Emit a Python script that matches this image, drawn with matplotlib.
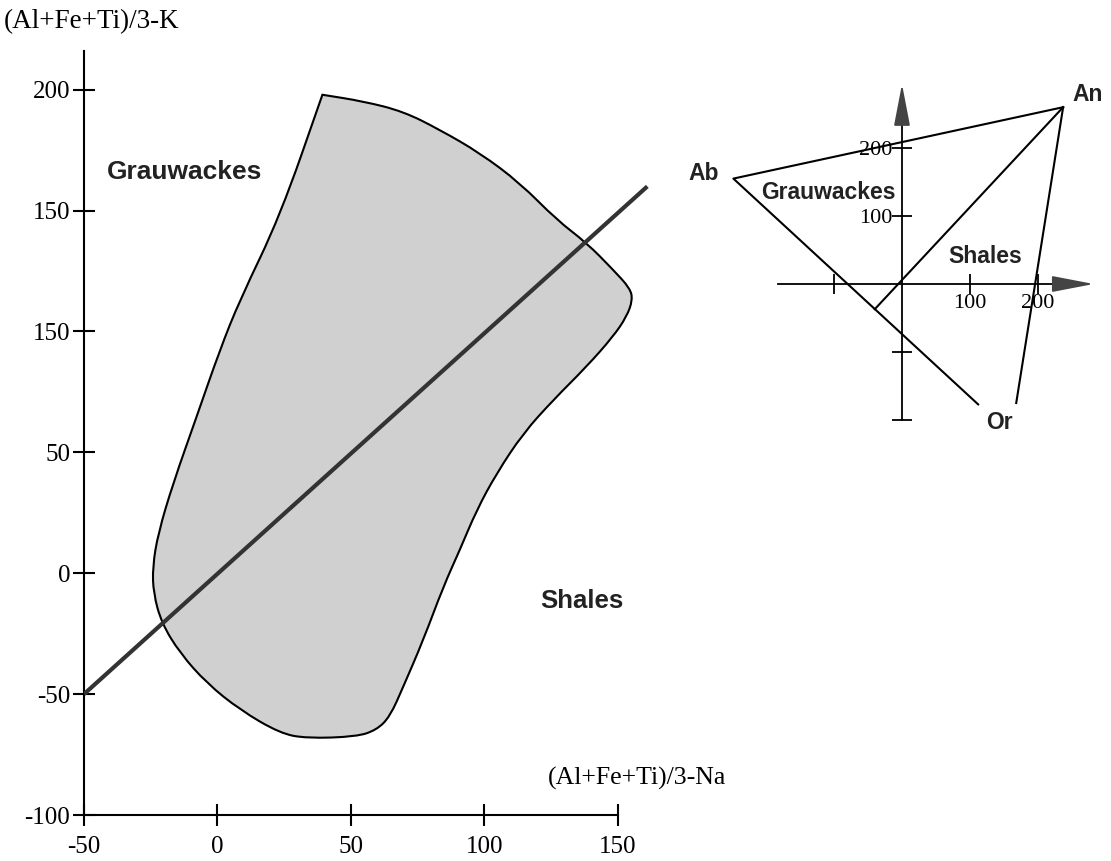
import matplotlib
matplotlib.use("Agg")
import matplotlib.pyplot as plt
from matplotlib.path import Path
from matplotlib.patches import PathPatch

plt.rcParams["font.family"] = ["Liberation Serif", "DejaVu Serif"]

# ── main diagram data ────────────────────────────────────────────────────────
# outline of the shaded field, clockwise from the top-left corner
field_x = [39.3, 54.6, 69.6, 83.3, 98.3, 113.3, 127.0, 138.3, 148.2, 154.5,
           155.5, 153.3, 148.2, 138.3, 125.8, 114.5, 104.6, 97.1, 90.8, 84.6,
           77.1, 69.6, 64.6, 59.6, 52.1, 33.4, 23.4, 8.4, -4.0, -14.0,
           -20.9, -24.0, -24.3, -22.2, -16.6, -7.8, 0.9, 8.4, 23.4]
field_y = [197.9, 195.2, 191.0, 183.4, 173.8, 161.4, 146.2, 136.6, 125.5, 117.9,
           113.1, 106.2, 97.9, 85.5, 71.7, 57.9, 41.4, 26.2, 9.7, -5.5,
           -27.6, -46.9, -59.3, -64.8, -67.6, -68.3, -66.2, -56.5, -45.5, -33.1,
           -20.7, -8.3, 2.7, 16.6, 37.3, 64.8, 92.4, 113.1, 147.6]

# discriminant line
line_x = [-50, 161]
line_y = [-50, 160]

x_ticks = [-50, 0, 50, 100, 150]
x_labels = ["-50", "0", "50", "100", "150"]
y_ticks = [-100, -50, 0, 50, 100, 150, 200]
y_labels = ["-100", "-50", "0", "50", "150", "150", "200"]  # as printed

# ── inset data (schematic Ab-An-Or projection) ───────────────────────────────
ab = (-248, 155)
an = (237, 260)
or_end = (112, -177)
right_end = (168, -175)
inner_end = (-40, -37)

inset_xticks = [-100, 100, 200]
inset_xlabels = ["", "100", "200"]
inset_yticks = [-200, -100, 100, 200]
inset_ylabels = ["", "", "100", "200"]

sans = dict(family=["Liberation Sans", "DejaVu Sans"], weight="bold",
            color="#222222")


def smooth_closed_path(xs, ys):
    """Closed path, first vertex kept as a sharp corner, the rest used as
    quadratic Bezier control points."""
    pts = list(zip(xs, ys))
    n = len(pts)
    mid = lambda a, b: ((a[0] + b[0]) / 2, (a[1] + b[1]) / 2)
    verts = [pts[0], mid(pts[0], pts[1])]
    codes = [Path.MOVETO, Path.LINETO]
    for i in range(1, n):
        verts += [pts[i], mid(pts[i], pts[(i + 1) % n])]
        codes += [Path.CURVE3, Path.CURVE3]
    verts += [pts[0], pts[0]]
    codes += [Path.LINETO, Path.CLOSEPOLY]
    return Path(verts, codes)


fig = plt.figure(figsize=(11.11, 8.61), dpi=100)

# ── main axes ────────────────────────────────────────────────────────────────
ax = fig.add_axes([84 / 1111, 46 / 861, 574 / 1111, 764 / 861])
ax.set_xlim(-50, 165)
ax.set_ylim(-100, 216)
ax.patch.set_visible(False)
for side in ("top", "right"):
    ax.spines[side].set_visible(False)
ax.spines["left"].set_bounds(-100, 216)
ax.spines["bottom"].set_bounds(-50, 150)
for side in ("left", "bottom"):
    ax.spines[side].set_linewidth(1.5)

ax.set_xticks(x_ticks, x_labels)
ax.set_yticks(y_ticks, y_labels)
ax.tick_params(direction="inout", length=16, width=1.5, labelsize=18)
ax.tick_params(axis="x", pad=7)
ax.tick_params(axis="y", pad=2)

ax.add_patch(PathPatch(smooth_closed_path(field_x, field_y),
                       facecolor="#d0d0d0", edgecolor="black",
                       linewidth=1.5, joinstyle="miter", zorder=2))
ax.plot(line_x, line_y, color="#333333", linewidth=3,
        solid_capstyle="butt", zorder=3)

ax.text(-41.4, 166, "Grauwackes", size=19, va="center", ha="left", **sans)
ax.text(120.8, -11.4, "Shales", size=18.5, va="center", ha="left", **sans)

fig.text(4 / 1111, 1 - 22 / 861, "(Al+Fe+Ti)/3-K", size=19.5, va="center")
fig.text(548 / 1111, 1 - 778 / 861, "(Al+Fe+Ti)/3-Na", size=18.5,
         va="center")

# ── inset ────────────────────────────────────────────────────────────────────
ax2 = fig.add_axes([690 / 1111, 421 / 861, 421 / 1111, 380 / 861])
ax2.set_xlim(-311.8, 307.4)
ax2.set_ylim(-229.4, 329.4)
ax2.patch.set_visible(False)
for side in ("top", "right"):
    ax2.spines[side].set_visible(False)
ax2.spines["left"].set_position(("data", 0))
ax2.spines["bottom"].set_position(("data", 0))
ax2.spines["left"].set_bounds(-200, 260)
ax2.spines["bottom"].set_bounds(-182, 250)
for side in ("left", "bottom"):
    ax2.spines[side].set_linewidth(1.3)

ax2.set_xticks(inset_xticks, inset_xlabels)
ax2.set_yticks(inset_yticks, inset_ylabels)
ax2.tick_params(direction="inout", length=14, width=1.3, labelsize=16, pad=0)

arrow = dict(arrowstyle="-|>,head_length=1.3,head_width=0.25",
             mutation_scale=20, color="#444444", lw=1.3,
             shrinkA=0, shrinkB=0)
ax2.annotate("", xy=(0, 294), xytext=(0, 240), arrowprops=arrow)
ax2.annotate("", xy=(282, 0), xytext=(230, 0), arrowprops=arrow)

ax2.plot([an[0], ab[0], or_end[0]], [an[1], ab[1], or_end[1]],
         color="black", lw=1.5)
ax2.plot([an[0], right_end[0]], [an[1], right_end[1]], color="black", lw=1.5)
ax2.plot([an[0], inner_end[0]], [an[1], inner_end[1]], color="black", lw=1.5)

ax2.text(-292, 163, "Ab", size=16.5, ha="center", va="center", **sans)
ax2.text(273, 278, "An", size=16.5, ha="center", va="center", **sans)
ax2.text(144, -203, "Or", size=16.5, ha="center", va="center", **sans)
ax2.text(-109, 134, "Grauwackes", size=16.5, ha="center", va="center", **sans)
ax2.text(122, 40, "Shales", size=16.5, ha="center", va="center", **sans)

fig.savefig("out.png", dpi=100, facecolor="white")
